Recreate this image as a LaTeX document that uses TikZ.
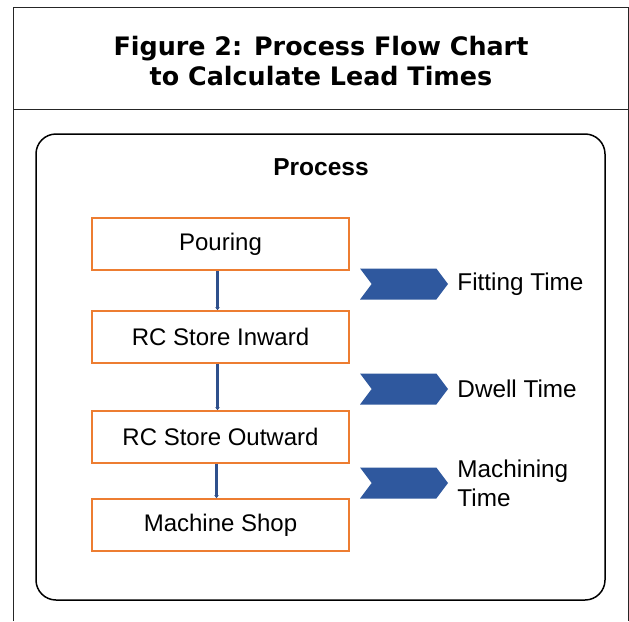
\documentclass[tikz,border=0pt]{standalone}
\usepackage{fontspec}
\setmainfont{Liberation Sans}
\newfontfamily\titlefont{DejaVu Sans}
\usetikzlibrary{shapes.symbols,arrows.meta}
\definecolor{boxorange}{RGB}{237,125,49}
\definecolor{chevblue}{RGB}{47,88,158}
\definecolor{connblue}{RGB}{47,80,140}
\tikzset{
  stepbox/.style={draw=boxorange, line width=1.6pt, fill=white, minimum width=257pt, minimum height=52pt, inner sep=0pt, font=\fontsize{24}{28}\selectfont},
  chev/.style={signal, signal to=east, signal from=west, signal pointer angle=106, fill=chevblue, draw=none, minimum width=88pt, minimum height=31pt, inner sep=0pt},
  chevlabel/.style={anchor=west, inner sep=0pt, font=\fontsize{24.3}{29}\selectfont, align=left},
  conn/.style={draw=connblue, line width=3pt, -{Stealth[length=3pt,width=4.5pt]}},
  frame/.style={draw=black!85, line width=1pt}
}
\begin{document}
\begin{tikzpicture}[x=1pt,y=-1pt]
\useasboundingbox (0,0) rectangle (629,621);
\fill[white] (0,0) rectangle (629,621);
% outer frame
\draw[frame] (13,621) -- (13,7) -- (628,7) -- (628,621);
\draw[frame] (13,109) -- (628,109);
\node[font=\titlefont\bfseries\fontsize{25.4}{30}\selectfont, align=center] (title) at (321,61) {Figure 2: Process Flow Chart\\to Calculate Lead Times};
% process container
\draw[line width=1.5pt, rounded corners=20pt] (36,134) rectangle (605,600);
\node[font=\bfseries\fontsize{24.5}{28}\selectfont] (proc) at (321,167) {Process};
% steps
\node[stepbox] (pour) at (220.5,244) {Pouring};
\node[stepbox] (inw) at (220.5,337) {RC Store Inward};
\node[stepbox] (outw) at (220.5,437) {RC Store Outward};
\node[stepbox] (shop) at (220.5,525) {Machine Shop};
\draw[conn] ([xshift=-3pt]pour.south) -- ([xshift=-3pt]inw.north);
\draw[conn] ([xshift=-3pt]inw.south) -- ([xshift=-3pt]outw.north);
\draw[conn] ([xshift=-4pt]outw.south) -- ([xshift=-4pt]shop.north);
% chevrons
\node[chev] (c1) at (404,284) {};
\node[chev] (c2) at (404,389) {};
\node[chev] (c3) at (404,483) {};
\node[chevlabel] (l1) at ([xshift=9pt]c1.east) {Fitting Time};
\node[chevlabel] (l2) at ([xshift=9pt]c2.east) {Dwell Time};
\node[chevlabel] (l3) at ([xshift=9pt]c3.east) {Machining\\Time};
\end{tikzpicture}
\end{document}
